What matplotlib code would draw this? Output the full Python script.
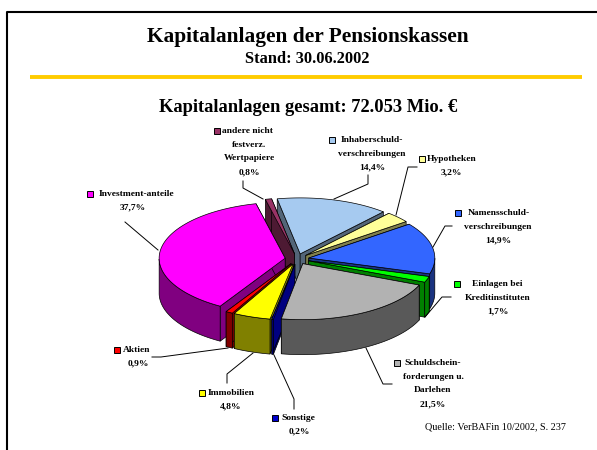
import numpy as np
import matplotlib
matplotlib.use('Agg')
import matplotlib.pyplot as plt
from matplotlib.patches import Rectangle

plt.rcParams['font.family'] = ['Liberation Serif', 'DejaVu Serif']

# Data, clockwise from the top
labels = ['Inhaberschuld-\nverschreibungen', 'Hypotheken', 'Namensschuld-\nverschreibungen',
          'Einlagen bei\nKreditinstituten', 'Schuldschein-\nforderungen u.\nDarlehen', 'Sonstige',
          'Immobilien', 'Aktien', 'Investment-anteile', 'andere nicht\nfestverz.\nWertpapiere']
values = [14.4, 3.2, 14.9, 1.7, 21.5, 0.2, 4.8, 0.9, 37.7, 0.8]
value_text = ['14,4%', '3,2%', '14,9%', '1,7%', '21,5%', '0,2%', '4,8%', '0,9%', '37,7%', '0,8%']
top_colors = ['#A6CAF0', '#FFFF99', '#3366FF', '#00FF00', '#B2B2B2', '#0000CC',
              '#FFFF00', '#FF0000', '#FF00FF', '#993366']
side_colors = ['#536578', '#80804C', '#1A3380', '#008000', '#595959', '#000080',
               '#808000', '#800000', '#800080', '#4D1A33']

# Pie geometry in pixels
cx, cy = 297, 259
rx, ry = 126, 56
ex, ey = 12, 5.3
depth = 35
start = -10.5

# Back to front, slice by slice
draw_order = [0, 9, 1, 2, 3, 8, 7, 6, 5, 4]

# Label layout: first line x, other lines x, first line y, key x, key y, leader points
layout = [
    (372, 372, 140, 332, 140, [(368, 175), (368, 184), (334, 199)]),
    (452, 451, 159, 422, 159, [(417, 167), (408, 167), (396, 215)]),
    (499, 498, 213, 458, 213, [(452, 226), (445, 226), (433, 247)]),
    (497, 498, 284, 457, 284, [(451, 297), (442, 297), (425, 317)]),
    (433, 433, 363, 397, 363, [(392, 384), (383, 384), (366, 348)]),
    (298, 299, 418, 275, 418, [(294, 409), (294, 399), (274, 355)]),
    (231, 231, 393, 202, 393, [(227, 383), (227, 374), (253, 353)]),
    (137, 138, 350, 117, 350, [(152, 357), (161, 357), (228, 348)]),
    (136, 133, 194, 90, 194, [(125, 222), (158, 250)]),
    (248, 249, 131, 217, 131, [(243, 181), (243, 188), (263, 199)]),
]

fig = plt.figure(figsize=(5.97, 4.5), dpi=100)
ax = fig.add_axes([0, 0, 1, 1])
ax.set_xlim(0, 597)
ax.set_ylim(450, 0)
ax.axis('off')

# Frame and gold rule
ax.plot([7, 7, 597], [450, 12, 12], color='black', lw=1.5)
ax.plot([30, 582], [77, 77], color='#FFCC00', lw=2.8, solid_capstyle='butt')

ax.text(308, 37, 'Kapitalanlagen der Pensionskassen', ha='center', va='center',
        fontsize=15.4, fontweight='bold')
ax.text(307, 59, 'Stand: 30.06.2002', ha='center', va='center', fontsize=11.8, fontweight='bold')
ax.text(308, 108, 'Kapitalanlagen gesamt: 72.053 Mio. €', ha='center', va='center',
        fontsize=13.3, fontweight='bold')
ax.text(495, 427, 'Quelle: VerBAFin 10/2002, S. 237', ha='center', va='center', fontsize=7.3)

# Slice angles from the values
total = sum(values)
angles = np.array(values) / total * 360
ends = start + np.cumsum(angles)
starts = ends - angles
mids = (starts + ends) / 2


def rim(t, ox, oy):
    t = np.radians(t)
    return ox + rx * np.sin(t), oy - ry * np.cos(t)


for i in draw_order:
    m = np.radians(mids[i])
    ox = cx + ex * np.sin(m)
    oy = cy - ey * np.cos(m)
    t = np.linspace(starts[i], ends[i], 120)
    x, y = rim(t, ox, oy)

    # cut faces
    for k in (0, -1):
        ax.fill([ox, x[k], x[k], ox], [oy, y[k], y[k] + depth, oy + depth],
                facecolor=side_colors[i], edgecolor='black', lw=0.5)
    # outer wall on the front half
    front = t[(np.mod(t, 360) >= 90) & (np.mod(t, 360) <= 270)]
    if len(front) > 1:
        fx, fy = rim(front, ox, oy)
        ax.fill(np.r_[fx, fx[::-1]], np.r_[fy, fy[::-1] + depth],
                facecolor=side_colors[i], edgecolor='black', lw=0.5)
    # top
    ax.fill(np.r_[ox, x], np.r_[oy, y], facecolor=top_colors[i], edgecolor='black', lw=0.5)

# Labels, keys and leaders
for i in range(len(values)):
    fx0, tx, ty, kx, ky, pts = layout[i]
    lines = labels[i].split('\n') + [value_text[i]]
    for n, line in enumerate(lines):
        ax.text(fx0 if n == 0 else tx, ty + n * 13.7, line, ha='center', va='center', fontsize=6.8,
                fontweight='bold')
    ax.add_patch(Rectangle((kx - 3, ky - 3), 6, 6, facecolor=top_colors[i], edgecolor='black', lw=0.7))
    ax.plot([p[0] for p in pts], [p[1] for p in pts], color='black', lw=0.7)

fig.savefig('out.png', dpi=100)
